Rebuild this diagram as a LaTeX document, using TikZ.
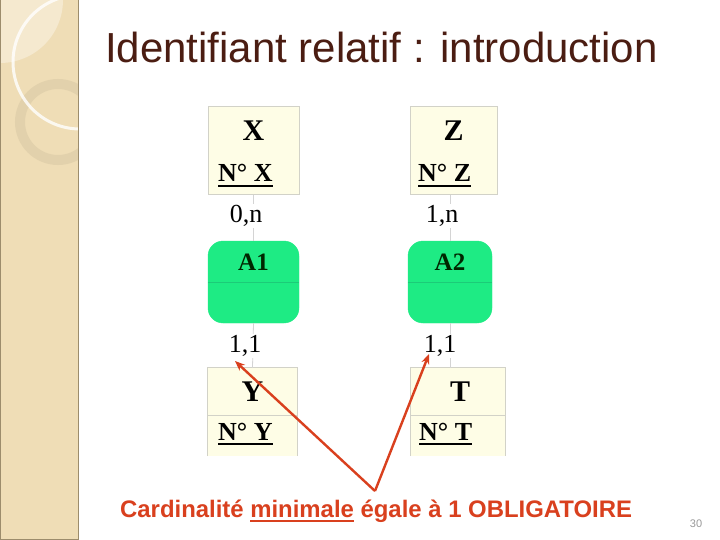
\documentclass[tikz,border=0pt]{standalone}
\usepackage{fontspec}
\setmainfont{Liberation Serif}
\newfontfamily\arialf{Liberation Sans}
\usetikzlibrary{arrows.meta}
\definecolor{side}{HTML}{EFDDB6}
\definecolor{sidelight}{HTML}{F5E9CF}
\definecolor{sidering}{HTML}{E2D1AC}
\definecolor{sideborder}{HTML}{9C8C6C}
\definecolor{entfill}{HTML}{FEFDE6}
\definecolor{entline}{HTML}{D2D2C8}
\definecolor{assofill}{HTML}{1EEB84}
\definecolor{assoline}{HTML}{1CCB78}
\definecolor{redc}{HTML}{D9401E}
\definecolor{titlec}{HTML}{4B1D12}
\definecolor{connc}{HTML}{D4D4D4}
\newcommand\myul[2]{\setbox0\hbox{#2}\rlap{\rule[#1]{\wd0}{2pt}}\box0\relax}
\tikzset{
  entbox/.style={fill=entfill, draw=entline, line width=1pt, inner sep=0pt},
  assobox/.style={fill=assofill, draw=assofill, rounded corners=15pt, inner sep=0pt, minimum height=82pt},
  enthead/.style={inner sep=0pt, font=\bfseries\fontsize{30}{33}\selectfont},
  entkey/.style={inner sep=0pt, anchor=base west, font=\bfseries\fontsize{26}{30}\selectfont},
  assohead/.style={inner sep=0pt, font=\bfseries\fontsize{25}{28}\selectfont, text=black!85!green},
  card/.style={inner sep=1pt, fill=white, font=\fontsize{26}{28}\selectfont},
  conn/.style={draw=connc, line width=0.8pt},
  redarrow/.style={draw=redc, line width=2.4pt, -{Stealth[length=10pt,width=8pt]}}
}
\begin{document}
\begin{tikzpicture}[x=1pt,y=-1pt]
\useasboundingbox (0,0) rectangle (720,540);
\fill[white] (0,0) rectangle (720,540);
% side bar
\begin{scope}
\clip (0,0) rectangle (78,540);
\fill[side] (0,0) rectangle (78,540);
\fill[sidelight] (0,0) circle (63pt);
\draw[sidering, line width=10pt] (58,122) circle (38pt);
\draw[white, opacity=0.8, line width=3pt] (80,62) circle (67pt);
\end{scope}
\draw[sideborder, line width=1pt] (0.5,0) -- (0.5,539.5) -- (78,539.5) -- (78,0);
% title
\node[anchor=base west, inner sep=0pt, text=titlec, font=\arialf\fontsize{42}{50}\selectfont] (title) at (105,63) {Identifiant relatif : introduction};
% entities top
\node[entbox, minimum width=91pt, minimum height=88pt] (X) at (253.5,151) {};
\node[entbox, minimum width=87pt, minimum height=88pt] (Z) at (453.5,151) {};
% associations
\node[assobox, minimum width=91pt] (A1) at (253.5,282) {};
\node[assobox, minimum width=84pt] (A2) at (450,282) {};
% entities bottom (cut off at the bottom)
\node[fill=entfill, inner sep=0pt, minimum width=89pt, minimum height=88pt] (Y) at (252.5,412) {};
\node[fill=entfill, inner sep=0pt, minimum width=94pt, minimum height=88pt] (T) at (458,412) {};
\draw[entline, line width=1pt] (Y.south west) -- (Y.north west) -- (Y.north east) -- (Y.south east);
\draw[entline, line width=1pt] (T.south west) -- (T.north west) -- (T.north east) -- (T.south east);
\draw[entline, line width=1pt] (Y.west |- 0,415) -- (Y.east |- 0,415);
\draw[entline, line width=1pt] (T.west |- 0,415) -- (T.east |- 0,415);
\draw[assoline, line width=1pt] (A1.west |- 0,282) -- (A1.east |- 0,282);
\draw[assoline, line width=1pt] (A2.west |- 0,282) -- (A2.east |- 0,282);
% connectors
\draw[conn] (X.south) -- (A1.north);
\draw[conn] (A1.south) -- (Y.north);
\draw[conn] (A2.north |- Z.south) -- (A2.north);
\draw[conn] (A2.south) -- (A2.south |- T.north);
% cardinalities
\node[card] (c1) at (246,216) {0,n};
\node[card] (c2) at (442,216) {1,n};
\node[card] (c3) at (245,346) {1,1};
\node[card] (c4) at (440,346) {1,1};
% entity texts
\node[enthead] (tX) at (X.center |- 0,131) {X};
\node[entkey] (kX) at (218,182) {\myul{-5pt}{N° X}};
\node[enthead] (tZ) at (Z.center |- 0,131) {Z};
\node[entkey] (kZ) at (418,182) {\myul{-5pt}{N° Z}};
\node[enthead] (tY) at (Y.center |- 0,392) {Y};
\node[entkey] (kY) at (218,440) {\myul{-5pt}{N° Y}};
\node[enthead] (tT) at (460,392) {T};
\node[entkey] (kT) at (419,440) {\myul{-5pt}{N° T}};
\node[assohead] (tA1) at (A1.center |- 0,262) {A1};
\node[assohead] (tA2) at (A2.center |- 0,262) {A2};
% caption and arrows
\node[anchor=base west, inner sep=0pt, text=redc, font=\arialf\bfseries\fontsize{23.9}{27}\selectfont] (caption) at (120,517) {Cardinalité \myul{-4.5pt}{minimale} égale à 1 OBLIGATOIRE};
\coordinate (src) at (375,491);
\coordinate (tipL) at (235,361);
\coordinate (tipR) at (429,354);
\draw[redarrow] (src) -- (tipL);
\draw[redarrow] (src) -- (tipR);
% page number
\node[anchor=base, inner sep=0pt, text=black!40, font=\arialf\fontsize{11}{13}\selectfont] (pg) at (696,527) {30};
\end{tikzpicture}
\end{document}
